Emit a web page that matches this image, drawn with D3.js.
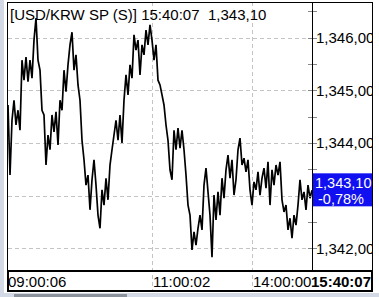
<!DOCTYPE html>
<html>
<head>
<meta charset="utf-8">
<script src="https://cdn.jsdelivr.net/npm/d3@7"></script>
<style>
	body { margin: 0; background: #fff; }
	svg { display: block; font-family: 'Liberation Sans', Arial, sans-serif; }
</style>
</head>
<body>
<svg width="379" height="297"></svg>
<script>
// USD/KRW spot ticks (one value every ~2px)
const prices = [
	1344.72, 1343.39, 1344.43, 1344.81, 1344.34, 1344.62, 1344.24, 1345.57, 1345.19, 1345.63,
	1345.16, 1345.57, 1345.23, 1345.95, 1346.37, 1345.57, 1345.38, 1344.62, 1344.53, 1343.58,
	1344.15, 1343.87, 1344.53, 1344.21, 1344.59, 1343.96, 1344.81, 1344.62, 1345.38, 1344.97,
	1345.48, 1345.86, 1346.10, 1345.38, 1345.67, 1345.10, 1344.81, 1344.05, 1343.68, 1343.20,
	1343.39, 1342.73, 1343.30, 1343.68, 1343.20, 1342.63, 1342.38, 1343.11, 1342.82, 1343.33,
	1342.92, 1343.58, 1343.87, 1344.15, 1344.43, 1344.05, 1344.53, 1344.00, 1344.81, 1345.29,
	1344.91, 1345.48, 1345.23, 1346.05, 1345.76, 1345.95, 1345.29, 1345.86, 1345.67, 1346.14,
	1345.86, 1346.24, 1345.95, 1345.57, 1345.86, 1345.19, 1345.10, 1344.91, 1344.72, 1344.34,
	1344.05, 1343.49, 1343.30, 1344.24, 1343.87, 1344.28, 1343.90, 1344.24, 1343.87, 1343.39,
	1342.82, 1342.63, 1341.97, 1342.31, 1342.06, 1342.38, 1342.63, 1342.35, 1343.20, 1343.52,
	1343.07, 1342.63, 1341.83, 1343.01, 1342.54, 1343.07, 1342.63, 1343.33, 1342.95, 1343.49,
	1343.77, 1343.33, 1343.68, 1343.01, 1343.30, 1343.87, 1344.09, 1343.58, 1343.71, 1343.45,
	1343.68, 1343.11, 1342.82, 1343.26, 1343.11, 1343.45, 1343.01, 1343.33, 1343.52, 1343.14,
	1343.64, 1342.82, 1343.49, 1343.20, 1343.58, 1343.39, 1343.64, 1342.92, 1342.69, 1342.82,
	1342.35, 1342.57, 1342.19, 1342.63, 1342.44, 1342.82, 1343.30, 1342.92, 1343.07, 1342.73,
	1343.20, 1342.95, 1343.10
];

// 1,343,00 sits under the last-price box, so it has no label
const priceTicks = [1342, 1343, 1344, 1345, 1346];
const labelTicks = [1342, 1344, 1345, 1346];
const priceLabels = ['1,342,00', '1,344,00', '1,345,00', '1,346,00'];
const halfTicks = [1342.5, 1343.5, 1344.5, 1345.5, 1346.5];

const timeTicks = [0, 72, 122];
const timeLabels = ['09:00:06', '11:00:02', '14:00:00'];
const lastTime = '15:40:07';
const lastPrice = '1,343,10';
const lastChange = '-0,78%';
const title = '[USD/KRW SP (S)] 15:40:07';

const svg = d3.select('svg');
const plot = {left: 8, right: 312, top: 2, bottom: 270};
const frameRight = 372;

const x = d3.scaleLinear()
	.domain([0, prices.length - 1])
	.range([plot.left, plot.right]);

const y = d3.scaleLinear()
	.domain([1341.588, 1346.674])
	.range([plot.bottom, plot.top]);

// window chrome strips
svg.append('rect')
	.attr('x', 0).attr('y', 0)
	.attr('width', 4).attr('height', 297)
	.attr('fill', '#d3dae6');
svg.append('rect')
	.attr('x', 0).attr('y', 293)
	.attr('width', 379).attr('height', 4)
	.attr('fill', '#d3dae6');
svg.append('rect')
	.attr('x', 14).attr('y', 294)
	.attr('width', 113).attr('height', 3)
	.attr('fill', '#8c929c');

svg.append('clipPath')
	.attr('id', 'frame-clip')
	.append('rect')
	.attr('x', 7).attr('y', 2)
	.attr('width', frameRight - 7).attr('height', 290);

// grid
svg.append('g')
	.selectAll('line')
	.data(priceTicks)
	.join('line')
	.attr('x1', plot.left).attr('x2', plot.right)
	.attr('y1', d => Math.round(y(d)) + 0.5)
	.attr('y2', d => Math.round(y(d)) + 0.5)
	.attr('stroke', '#c4c4c4')
	.attr('stroke-dasharray', '4,3');

svg.append('g')
	.selectAll('line')
	.data(timeTicks.slice(1))
	.join('line')
	.attr('x1', d => Math.round(x(d)) + 0.5)
	.attr('x2', d => Math.round(x(d)) + 0.5)
	.attr('y1', plot.top).attr('y2', 291)
	.attr('stroke', '#c4c4c4')
	.attr('stroke-dasharray', '4,3');

svg.append('text')
	.attr('x', 10)
	.attr('y', 20)
	.attr('font-size', 15)
	.attr('fill', '#000')
	.text(title);
svg.append('text')
	.attr('x', 208)
	.attr('y', 20)
	.attr('font-size', 15)
	.attr('fill', '#000')
	.text(lastPrice);

const line = d3.line()
	.x((d, i) => x(i))
	.y(d => y(d));

svg.append('path')
	.datum(prices)
	.attr('fill', 'none')
	.attr('stroke', '#000')
	.attr('stroke-width', 1.7)
	.attr('stroke-linejoin', 'miter')
	.attr('d', line);

// price axis
const axis = svg.append('g').attr('clip-path', 'url(#frame-clip)');

axis.selectAll('line.tick')
	.data(priceTicks.concat(halfTicks))
	.join('line')
	.attr('class', 'tick')
	.attr('x1', 308).attr('x2', 317)
	.attr('y1', d => Math.round(y(d)) + 0.5)
	.attr('y2', d => Math.round(y(d)) + 0.5)
	.attr('stroke', '#888');

axis.selectAll('text.price')
	.data(labelTicks)
	.join('text')
	.attr('class', 'price')
	.attr('x', 316)
	.attr('y', d => y(d) + 5.5)
	.attr('font-size', 15)
	.attr('fill', '#000')
	.text((d, i) => priceLabels[i]);

const lastY = y(prices[prices.length - 1]);
axis.append('rect')
	.attr('x', plot.right)
	.attr('y', lastY - 17)
	.attr('width', frameRight - plot.right)
	.attr('height', 33)
	.attr('fill', '#1010f0');
axis.append('text')
	.attr('x', 315)
	.attr('y', lastY - 2.5)
	.attr('font-size', 14.5)
	.attr('fill', '#fff')
	.text(lastPrice);
axis.append('text')
	.attr('x', 318)
	.attr('y', lastY + 13.5)
	.attr('font-size', 14.5)
	.attr('fill', '#fff')
	.text(lastChange);

// time axis
const timeAxis = svg.append('g');
timeAxis.selectAll('text')
	.data(timeTicks)
	.join('text')
	.attr('x', d => x(d) + (d === 0 ? 0 : 1))
	.attr('y', 287)
	.attr('font-size', 15)
	.attr('fill', '#000')
	.text((d, i) => timeLabels[i]);
timeAxis.append('text')
	.attr('x', frameRight - 1)
	.attr('y', 287)
	.attr('text-anchor', 'end')
	.attr('font-size', 15)
	.attr('font-weight', 'bold')
	.attr('fill', '#000')
	.text(lastTime);

// frame
svg.append('line')
	.attr('x1', plot.right + 0.5).attr('x2', plot.right + 0.5)
	.attr('y1', plot.top).attr('y2', plot.bottom)
	.attr('stroke', '#000');
svg.append('rect')
	.attr('x', 7.5).attr('y', 2.5)
	.attr('width', frameRight - 7).attr('height', plot.bottom - 2)
	.attr('fill', 'none')
	.attr('stroke', '#000');
svg.append('rect')
	.attr('x', 8).attr('y', plot.bottom + 1)
	.attr('width', frameRight - 8).attr('height', 20)
	.attr('fill', 'none')
	.attr('stroke', '#000')
	.attr('stroke-width', 2);
</script>
</body>
</html>
